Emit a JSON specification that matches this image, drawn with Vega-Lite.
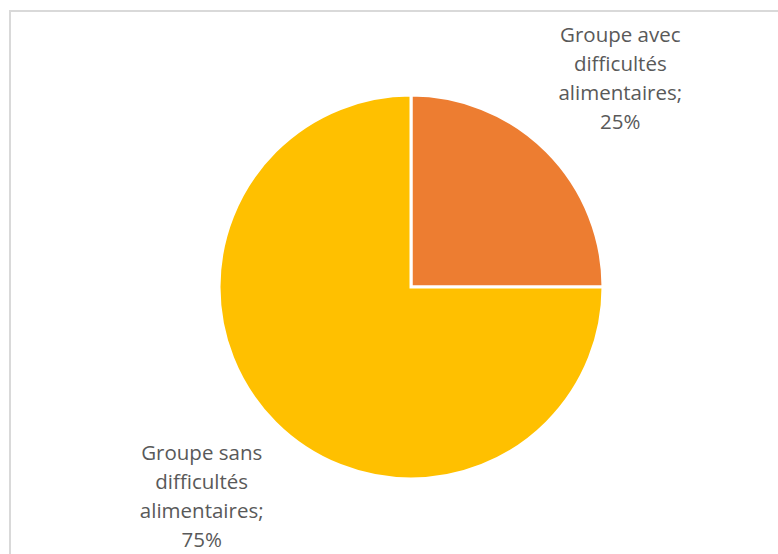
{
  "$schema": "https://vega.github.io/schema/vega-lite/v6.json",
  "width": 802,
  "height": 552,
  "autosize": {"type": "none"},
  "padding": {"left": 10, "top": 11, "right": -34, "bottom": -9},
  "background": "white",
  "view": {"stroke": "#d9d9d9", "strokeWidth": 2, "fill": "white"},
  "data": {"values": [
    {"groupe": "Groupe avec difficultés alimentaires", "pourcentage": 25, "ordre": 1, "etiquette": "Groupe avec\ndifficultés\nalimentaires;\n25%"},
    {"groupe": "Groupe sans difficultés alimentaires", "pourcentage": 75, "ordre": 2, "etiquette": "Groupe sans\ndifficultés\nalimentaires;\n75%"}
  ]},
  "encoding": {
    "theta": {"field": "pourcentage", "type": "quantitative", "stack": true},
    "order": {"field": "ordre", "type": "ordinal"}
  },
  "layer": [
    {
      "mark": {"type": "arc", "outerRadius": 192, "stroke": "white", "strokeWidth": 3},
      "encoding": {
        "color": {
          "field": "groupe", "type": "nominal",
          "scale": {"domain": ["Groupe avec difficultés alimentaires", "Groupe sans difficultés alimentaires"], "range": ["#ED7D31", "#FFC000"]},
          "legend": null
        }
      }
    },
    {
      "mark": {"type": "text", "radius": 296, "dy": -42, "fontSize": 20.5, "font": "Open Sans", "color": "#595959", "lineBreak": "\n", "lineHeight": 29, "align": "center", "baseline": "middle"},
      "encoding": {"text": {"field": "etiquette", "type": "nominal"}}
    }
  ]
}
